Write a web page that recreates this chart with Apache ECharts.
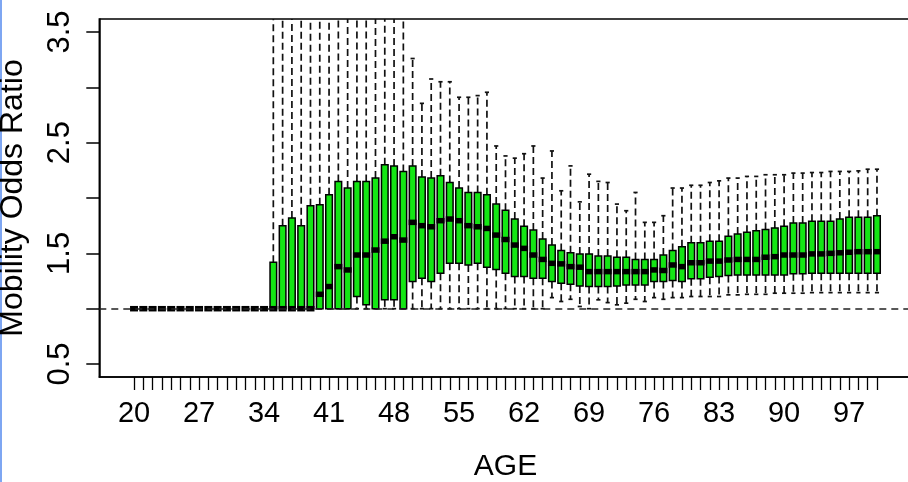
<!DOCTYPE html>
<html><head><meta charset="utf-8">
<script src="https://cdn.jsdelivr.net/npm/echarts@6/dist/echarts.min.js"></script>
<style>html,body{margin:0;padding:0;background:#fff}#c{width:908px;height:482px}</style>
</head><body><div id="c"></div>
<script>
const ages = [20,21,22,23,24,25,26,27,28,29,30,31,32,33,34,35,36,37,38,39,40,41,42,43,44,45,46,47,48,49,50,51,52,53,54,55,56,57,58,59,60,61,62,63,64,65,66,67,68,69,70,71,72,73,74,75,76,77,78,79,80,81,82,83,84,85,86,87,88,89,90,91,92,93,94,95,96,97,98,99,100];
const lowWhisker = [1,1,1,1,1,1,1,1,1,1,1,1,1,1,1,
  1,1,1,1,1,1,1,1,1,1,1,1,1,1,1,
  1,1,1,1,1,1,1,1,1,1,1,1,1,1,1,
  1.10,1.065,1.085,1.02,1.0,1.08,1.055,1.035,1.05,1.085,1.065,1.10,1.085,1.10,1.10,
  1.11,1.11,1.11,1.11,1.125,1.125,1.13,1.13,1.13,1.14,1.14,1.14,1.14,1.145,1.145,1.145,1.145,1.145,1.145,1.145,1.145];
const q1 = [1,1,1,1,1,1,1,1,1,1,1,1,1,1,1,
  1,1,1,1,1,1,1,1,1,1.11,1.035,1,1.08,1.08,1,
  1.245,1.275,1.245,1.32,1.41,1.41,1.395,1.41,1.375,1.355,1.32,1.29,1.29,1.275,1.275,
  1.245,1.23,1.22,1.205,1.2,1.2,1.2,1.205,1.215,1.215,1.215,1.245,1.245,1.255,1.245,
  1.27,1.27,1.285,1.29,1.30,1.305,1.305,1.305,1.305,1.305,1.305,1.315,1.315,1.32,1.32,1.32,1.32,1.32,1.32,1.32,1.32];
const median = [1,1,1,1,1,1,1,1,1,1,1,1,1,1,1,
  1,1,1,1,1,1.13,1.2,1.38,1.35,1.485,1.485,1.53,1.61,1.65,1.62,
  1.78,1.75,1.74,1.795,1.81,1.795,1.75,1.74,1.725,1.665,1.625,1.575,1.545,1.485,1.445,
  1.41,1.405,1.38,1.375,1.335,1.335,1.335,1.335,1.335,1.335,1.335,1.35,1.345,1.395,1.38,
  1.415,1.415,1.43,1.43,1.44,1.445,1.445,1.445,1.465,1.47,1.485,1.485,1.485,1.495,1.495,1.50,1.505,1.51,1.515,1.515,1.515];
const q3 = [1,1,1,1,1,1,1,1,1,1,1,1,1,1,1,
  1.42,1.75,1.82,1.75,1.93,1.94,2.03,2.15,2.09,2.15,2.15,2.18,2.30,2.29,2.24,
  2.29,2.19,2.18,2.20,2.14,2.09,2.05,2.05,2.03,1.945,1.89,1.81,1.745,1.71,1.63,
  1.575,1.525,1.505,1.495,1.495,1.475,1.475,1.465,1.465,1.445,1.445,1.445,1.485,1.525,1.56,
  1.595,1.595,1.61,1.61,1.655,1.675,1.69,1.705,1.715,1.73,1.745,1.775,1.775,1.79,1.79,1.79,1.81,1.825,1.825,1.825,1.84];
const highWhisker = [1,1,1,1,1,1,1,1,1,1,1,1,1,1,1,
  4,4,4,4,4,4,4,4,4,4,4,4,4,4,4,
  3.26,2.855,3.075,3.05,3.05,2.91,2.91,2.925,2.955,2.47,2.38,2.36,2.40,2.47,2.18,
  2.425,2.065,2.29,1.965,2.215,2.15,2.14,1.945,1.885,2.05,1.78,1.78,1.84,2.09,2.09,
  2.115,2.115,2.14,2.155,2.18,2.18,2.195,2.195,2.21,2.21,2.21,2.225,2.225,2.23,2.23,2.24,2.24,2.24,2.245,2.26,2.26];
const xTickLabels = [20,27,34,41,48,55,62,69,76,83,90,97];
const yTickValues = [0.5,1.0,1.5,2.0,2.5,3.0,3.5];
const yTickLabels = [0.5,1.5,2.5,3.5];
const refLine = 1.0;

const chart = echarts.init(document.getElementById('c'), null, {renderer: 'canvas'});
const data = ages.map((a, i) => [a, lowWhisker[i], q1[i], median[i], q3[i], highWhisker[i]]);
const FONT = '"Liberation Sans", Arial, sans-serif';

chart.setOption({
  animation: false,
  backgroundColor: '#fff',
  graphic: [{type: 'rect', left: 0, top: 0, shape: {width: 2, height: 482}, style: {fill: '#7ea6f2'}}],
  grid: {left: 99.3, top: 19, width: 812.4, height: 358, show: true, borderColor: '#000', borderWidth: 1.5,
    backgroundColor: 'transparent', containLabel: false, outerBoundsMode: 'none'},
  xAxis: {
    type: 'value', min: 16.26, max: 103.74,
    name: 'AGE', nameLocation: 'middle', nameGap: 75,
    nameTextStyle: {fontFamily: FONT, fontSize: 30, color: '#000'},
    axisLine: {show: true, lineStyle: {color: '#000', width: 1.5}},
    axisTick: {show: true, length: 13, customValues: ages, lineStyle: {color: '#000', width: 1.3}},
    axisLabel: {customValues: xTickLabels, margin: 22, fontFamily: FONT, fontSize: 29, color: '#000'},
    splitLine: {show: false}
  },
  yAxis: {
    type: 'value', min: 0.383, max: 3.617,
    name: 'Mobility Odds Ratio', nameLocation: 'middle', nameGap: 70, nameRotate: 90,
    nameTextStyle: {fontFamily: FONT, fontSize: 32, color: '#000'},
    axisLine: {show: true, lineStyle: {color: '#000', width: 1.5}},
    axisTick: {show: true, length: 13, customValues: yTickValues, lineStyle: {color: '#000', width: 1.5}},
    axisLabel: {customValues: yTickLabels, rotate: 90, margin: 23, fontFamily: FONT, fontSize: 31, color: '#000',
      formatter: v => Number(v).toFixed(1)},
    splitLine: {show: false}
  },
  series: [{
    type: 'custom',
    clip: true,
    data: data,
    encode: {x: 0, y: [1, 2, 3, 4, 5]},
    renderItem: function (params, api) {
      const x = api.value(0);
      const band = api.size([1, 0])[0];
      const cx = api.coord([x, 1])[0];
      const yy = i => api.coord([x, api.value(i)])[1];
      const yLow = yy(1), yQ1 = yy(2), yMed = yy(3), yQ3 = yy(4), yHigh = yy(5);
      const bw = band * 0.71, cw = band * 0.45;
      const dash = {stroke: '#111', lineWidth: 1.7, lineDash: [7, 4]};
      const solid = {stroke: '#111', lineWidth: 1.7};
      return {type: 'group', children: [
        {type: 'line', shape: {x1: cx, y1: yQ3, x2: cx, y2: yHigh}, style: dash},
        {type: 'line', shape: {x1: cx, y1: yQ1, x2: cx, y2: yLow}, style: dash},
        {type: 'line', shape: {x1: cx - cw / 2, y1: yHigh, x2: cx + cw / 2, y2: yHigh}, style: solid},
        {type: 'line', shape: {x1: cx - cw / 2, y1: yLow, x2: cx + cw / 2, y2: yLow}, style: solid},
        {type: 'rect', shape: {x: cx - bw / 2, y: yQ3, width: bw, height: yQ1 - yQ3}, style: {fill: '#14e614', stroke: '#000', lineWidth: 1.5}},
        {type: 'line', shape: {x1: cx - bw / 2 - 0.7, y1: yMed, x2: cx + bw / 2 + 0.7, y2: yMed}, style: {stroke: '#000', lineWidth: 5.5}}
      ]};
    },
    markLine: {
      silent: true, symbol: ['none', 'none'], label: {show: false},
      lineStyle: {color: '#222', width: 1.5, type: [7, 5]},
      data: [{yAxis: refLine}]
    },
    z: 2
  }]
});
</script></body></html>
